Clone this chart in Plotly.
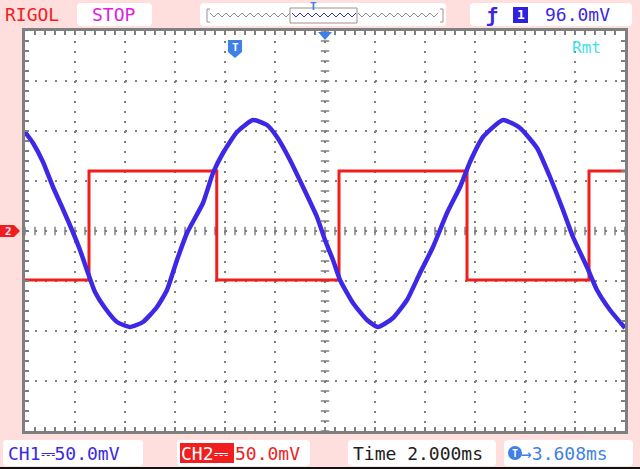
import plotly.graph_objects as go

# ---- data (time in ms from screen centre, level in mV from screen centre)
ch1_t = [-12.0, -11.68, -11.28, -10.88, -10.52, -10.12, -9.80, -9.48, -9.20, -8.80, -8.32, -7.80,
         -7.28, -6.72, -6.32, -5.92, -5.52, -4.88, -4.48, -4.08, -3.52, -2.88, -2.32, -1.92,
         -1.40, -0.88, -0.32, 0.0, 0.32, 0.60, 1.12, 1.68, 2.12, 2.72, 3.28, 3.80, 4.32, 4.88,
         5.40, 5.80, 6.32, 7.12, 7.80, 8.48, 9.00, 9.52, 9.92, 10.48, 10.88, 11.40, 12.0]
ch1_mv = [99, 88, 69, 44, 24, 1, -19, -42, -61, -77, -91, -96,
          -91, -76, -59, -29, -2, 28, 58, 78, 99, 111, 106, 94,
          71, 44, 14, -9, -29, -49, -72, -89, -96, -87, -69, -42, -16, 18,
          44, 69, 94, 111, 103, 83, 54, 21, -6, -36, -59, -79, -97]

ch2_t = [-12.0, -9.44, -4.33, 0.56, 5.68, 10.56, 12.0]
ch2_mv = [-49, 60, -49, 60, -49, 60, 60]

W, H = 640, 469
L, R, T, B = 25, 625, 31, 431  # grid box in pixels
GRAY = "#7f7f7f"
BLUE = "#3c28e6"
LBLUE = "#3f7fe8"
RED = "#f01e1e"
PINK = "#ffdede"
FONT = "DejaVu Sans Mono"


def X(px):
    return (px - L) / (R - L)


def Y(py):
    return (B - py) / (B - T)


fig = go.Figure()

# centre-line tick marks (decoration of the graticule)
cx = [i * 0.4 for i in range(-30, 31)]
fig.add_trace(go.Scatter(x=cx, y=[0] * len(cx), mode="markers", hoverinfo="skip",
                         marker=dict(symbol="line-ns", size=6, line=dict(width=1.5, color=GRAY))))
cy = [i * 10 for i in range(-20, 21)]
fig.add_trace(go.Scatter(x=[0] * len(cy), y=cy, mode="markers", hoverinfo="skip",
                         marker=dict(symbol="line-ew", size=6, line=dict(width=1.5, color=GRAY))))

fig.add_trace(go.Scatter(x=ch2_t, y=ch2_mv, mode="lines", line=dict(color=RED, width=3, shape="hv"),
                         name="CH2"))
fig.add_trace(go.Scatter(x=ch1_t, y=ch1_mv, mode="lines", line=dict(color=BLUE, width=4.5, shape="spline",
                                                                        smoothing=0.5), name="CH1"))

axis_common = dict(showline=True, linecolor=GRAY, linewidth=3, mirror="allticks",
                   showgrid=True, gridcolor=GRAY, gridwidth=2, griddash="2px,8px",
                   ticks="inside", ticklen=4, tickcolor=GRAY, tickwidth=2,
                   showticklabels=False, zeroline=False, fixedrange=True)

fig.update_xaxes(range=[-12, 12], dtick=2, tick0=0,
                 minor=dict(dtick=0.4, ticks="inside", ticklen=4, tickcolor=GRAY, tickwidth=2, showgrid=False),
                 **axis_common)
fig.update_yaxes(range=[-200, 200], dtick=50, tick0=0,
                 minor=dict(dtick=10, ticks="inside", ticklen=4, tickcolor=GRAY, tickwidth=2, showgrid=False),
                 **axis_common)

shapes = []
annos = []


def rbox(x0, y0, x1, y1, fill="white", r=4):
    p = (f"M {X(x0 + r)},{Y(y0)} L {X(x1 - r)},{Y(y0)} Q {X(x1)},{Y(y0)} {X(x1)},{Y(y0 + r)} "
         f"L {X(x1)},{Y(y1 - r)} Q {X(x1)},{Y(y1)} {X(x1 - r)},{Y(y1)} L {X(x0 + r)},{Y(y1)} "
         f"Q {X(x0)},{Y(y1)} {X(x0)},{Y(y1 - r)} L {X(x0)},{Y(y0 + r)} Q {X(x0)},{Y(y0)} {X(x0 + r)},{Y(y0)} Z")
    shapes.append(dict(type="path", path=p, xref="paper", yref="paper", fillcolor=fill,
                       line=dict(width=0), layer="below"))


def text(px, py, s, color, size=18, xanchor="left", bg=None):
    annos.append(dict(x=X(px), y=Y(py), xref="paper", yref="paper", text=s, showarrow=False,
                      xanchor=xanchor, yanchor="middle", font=dict(family=FONT, size=size, color=color),
                      bgcolor=bg, borderpad=0))


# top status bar
text(4, 15, "RIGOL", RED, 18)
rbox(77, 3, 152, 26)
text(114, 15, "STOP", "#e020e0", 18, "center")
rbox(200, 3, 446, 26)
# memory-depth zigzag indicator
zz_gray1 = " ".join(("M" if i == 0 else "L") + f" {X(210 + i * 4)},{Y(15 + (2 if i % 2 else -2))}" for i in range(21))
zz_blue = " ".join(("M" if i == 0 else "L") + f" {X(292 + i * 4)},{Y(15 + (2 if i % 2 else -2))}" for i in range(17))
zz_gray2 = " ".join(("M" if i == 0 else "L") + f" {X(358 + i * 4)},{Y(15 + (2 if i % 2 else -2))}" for i in range(21))
for p, c in [(zz_gray1, "#8c8c8c"), (zz_blue, "#3030e0"), (zz_gray2, "#8c8c8c")]:
    shapes.append(dict(type="path", path=p, xref="paper", yref="paper", line=dict(color=c, width=1)))
shapes.append(dict(type="rect", xref="paper", yref="paper", x0=X(290), x1=X(357), y0=Y(8), y1=Y(23),
                   line=dict(color="#a09090", width=1)))
shapes.append(dict(type="path", xref="paper", yref="paper", line=dict(color="#a09090", width=1),
                   path=f"M {X(210)},{Y(9)} L {X(207)},{Y(9)} L {X(207)},{Y(22)} L {X(210)},{Y(22)}"))
shapes.append(dict(type="path", xref="paper", yref="paper", line=dict(color="#a09090", width=1),
                   path=f"M {X(440)},{Y(9)} L {X(443)},{Y(9)} L {X(443)},{Y(22)} L {X(440)},{Y(22)}"))
text(313, 6, "<b>T</b>", LBLUE, 11, "center")

rbox(470, 3, 632, 26)
text(492, 15, "<b>ƒ</b>", BLUE, 20, "center")
shapes.append(dict(type="rect", xref="paper", yref="paper", x0=X(513), x1=X(528), y0=Y(7), y1=Y(23),
                   fillcolor="#3020e0", line=dict(width=0)))
text(520.5, 15, "<b>1</b>", "white", 13, "center")
text(544, 15, "96.0mV", BLUE, 18)

# bottom status bar
rbox(3, 440, 143, 466)
text(7, 453, "CH1⎓50.0mV", BLUE, 18)
rbox(177, 440, 310, 466)
shapes.append(dict(type="rect", xref="paper", yref="paper", x0=X(180), x1=X(234), y0=Y(443), y1=Y(463),
                   fillcolor=RED, line=dict(width=0)))
text(180, 453, "CH2⎓", "white", 18)
text(234, 453, "50.0mV", RED, 18)
rbox(348, 440, 496, 466)
text(352, 453, "Time 2.000ms", "#202020", 18)
rbox(504, 440, 633, 466)
shapes.append(dict(type="circle", xref="paper", yref="paper", x0=X(508), x1=X(522), y0=Y(446), y1=Y(460),
                   fillcolor=LBLUE, line=dict(width=0)))
text(515, 453, "<b>T</b>", "white", 10, "center")
text(520, 453, "→3.608ms", LBLUE, 18)
shapes.append(dict(type="line", xref="paper", yref="paper", x0=X(0), x1=X(640), y0=Y(468), y1=Y(468),
                   line=dict(color="#101010", width=2)))

# in-screen markers
text(586, 48, "Rmt", "#40e0f0", 16, "center")
shapes.append(dict(type="path", xref="paper", yref="paper", fillcolor=LBLUE, line=dict(width=0),
                   path=f"M {X(228)},{Y(40)} L {X(242)},{Y(40)} L {X(242)},{Y(52)} L {X(235)},{Y(58)} L {X(228)},{Y(52)} Z"))
text(235, 47, "<b>T</b>", "white", 11, "center")
shapes.append(dict(type="path", xref="paper", yref="paper", fillcolor=LBLUE, line=dict(width=0),
                   path=f"M {X(318)},{Y(32)} L {X(332)},{Y(32)} L {X(325)},{Y(40)} Z"))
shapes.append(dict(type="path", xref="paper", yref="paper", fillcolor=RED, line=dict(width=0),
                   path=f"M {X(0)},{Y(225)} L {X(14)},{Y(225)} L {X(20)},{Y(231)} L {X(14)},{Y(237)} L {X(0)},{Y(237)} Z"))
text(8, 231, "<b>2</b>", "#e0e0ff", 11, "center")

fig.update_layout(width=W, height=H, margin=dict(l=L, r=W - R, t=T, b=H - B),
                  paper_bgcolor=PINK, plot_bgcolor="white", showlegend=False,
                  shapes=shapes, annotations=annos)

fig.write_html("out.html", config={"displayModeBar": False, "staticPlot": True},
               post_script="document.body.style.margin='0';document.body.style.padding='0';"
                           "document.body.style.overflow='hidden';")
